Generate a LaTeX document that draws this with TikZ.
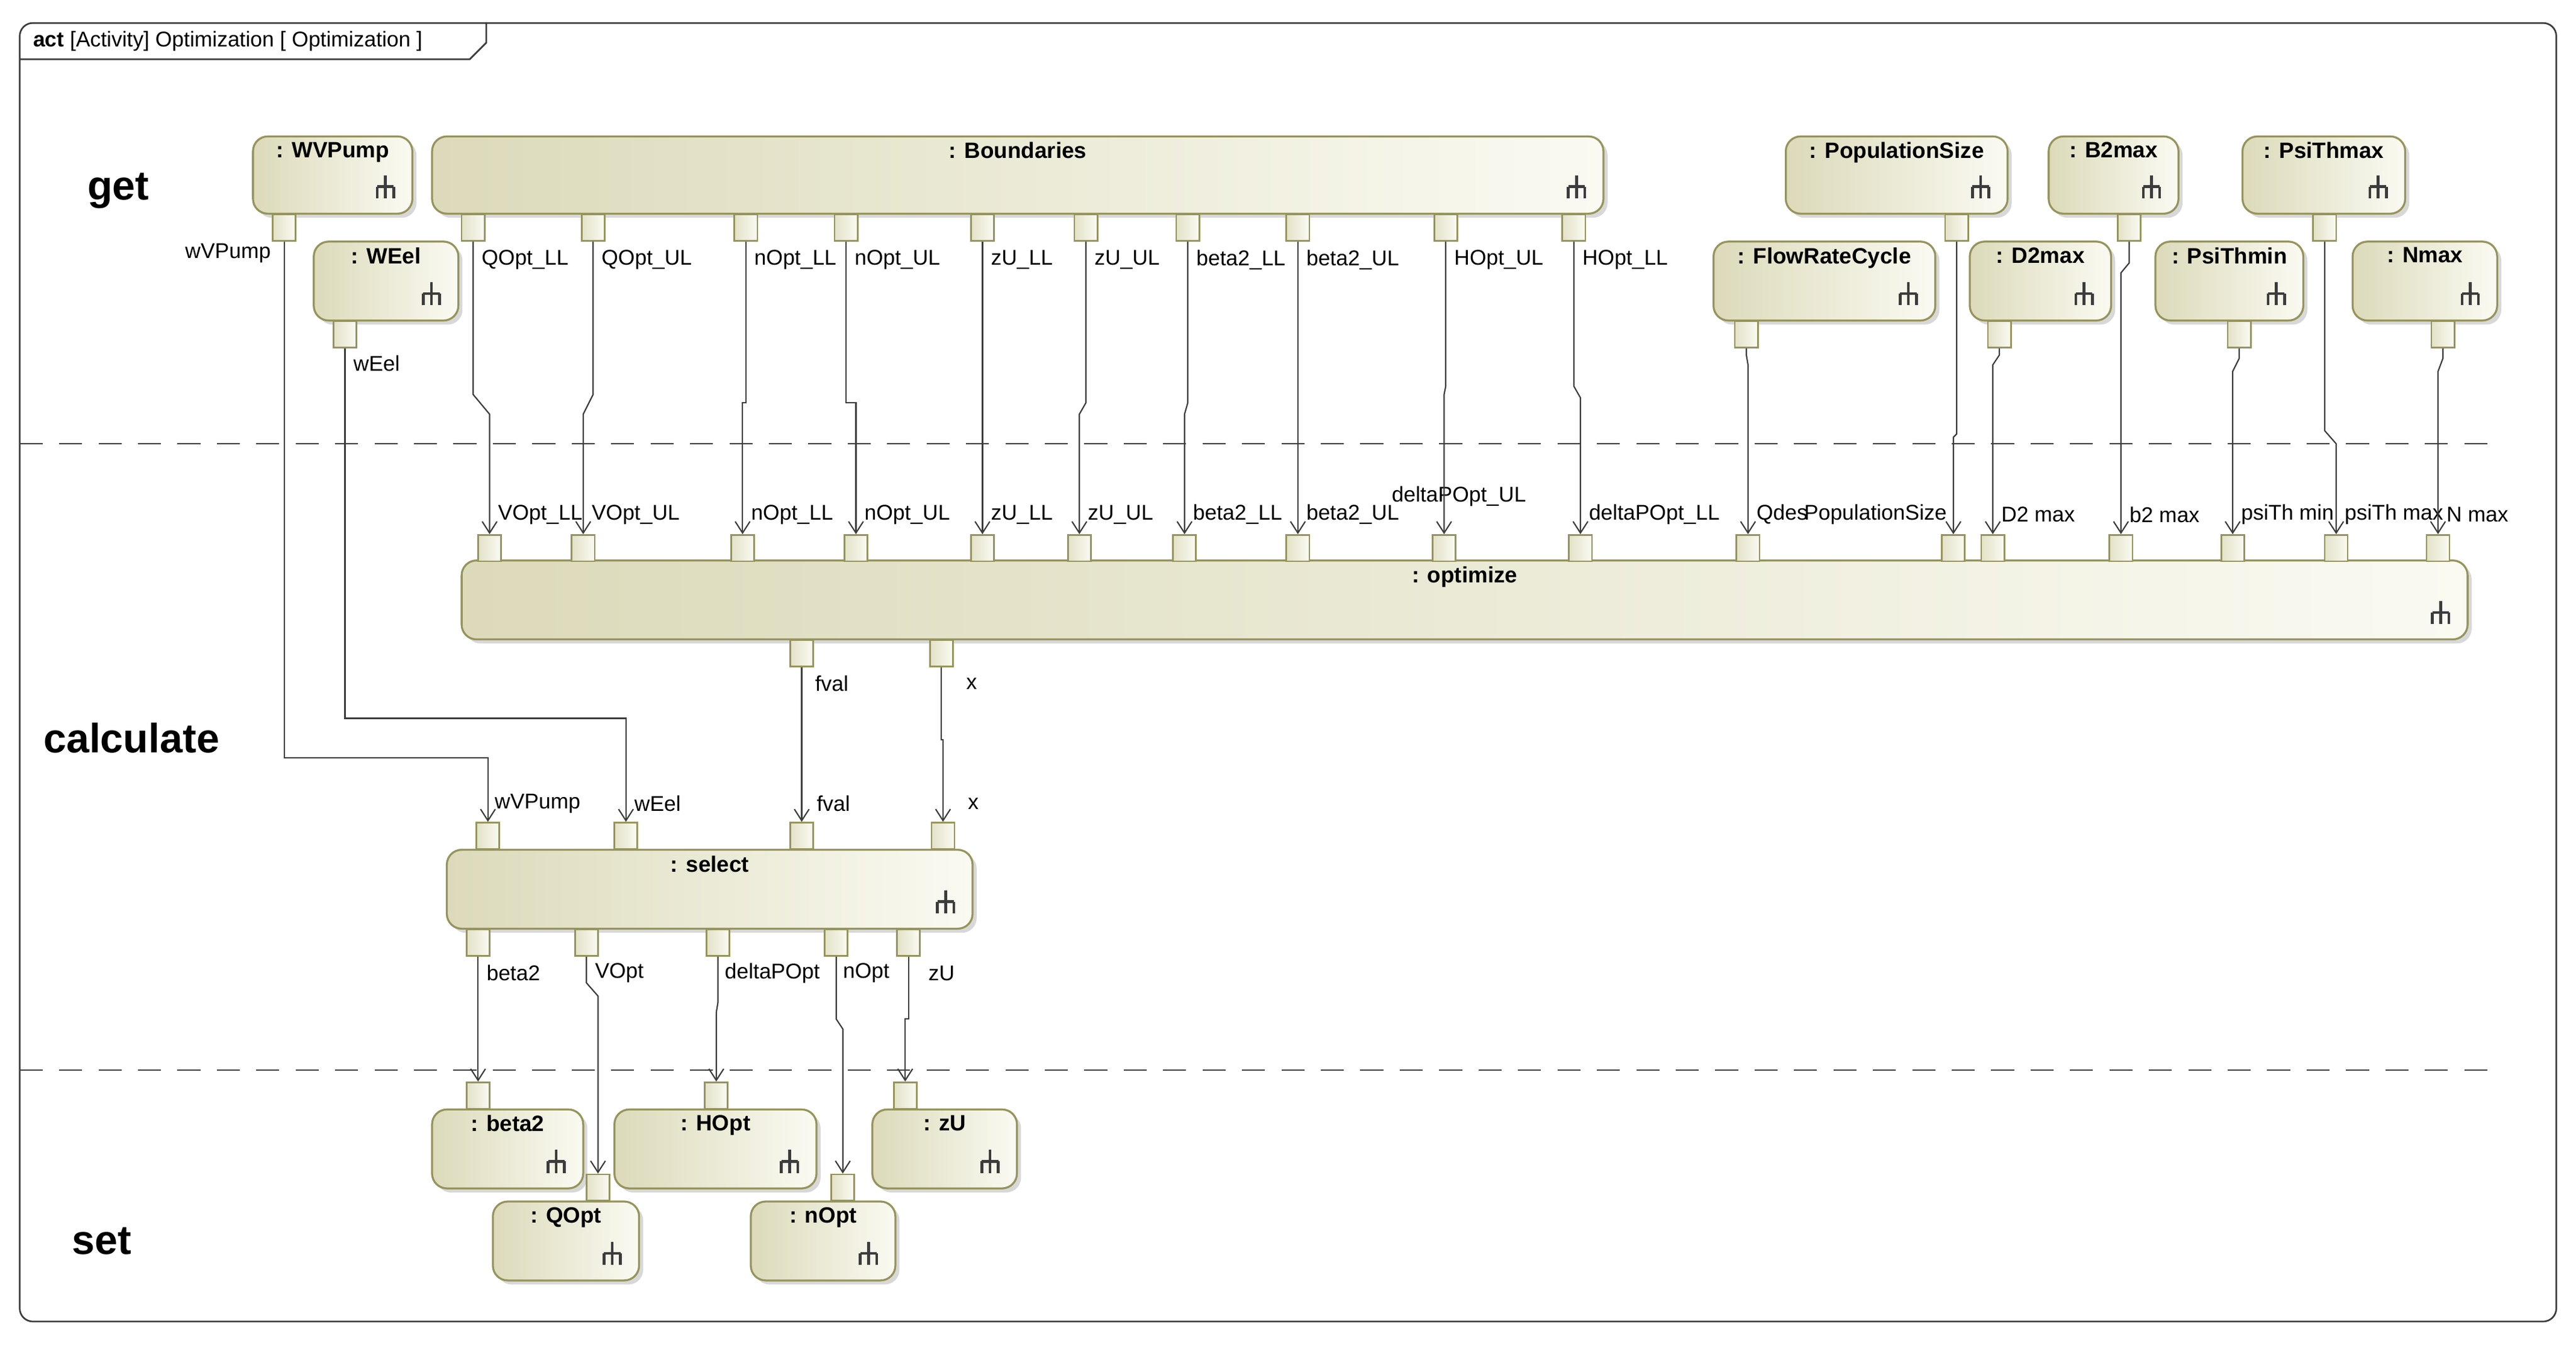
\documentclass[tikz,border=0pt]{standalone}
\usepackage{fontspec}
\setmainfont{Liberation Sans}
\usetikzlibrary{arrows.meta,shadows}
\definecolor{actl}{RGB}{220,218,186}
\definecolor{actr}{RGB}{250,250,242}
\definecolor{actb}{RGB}{150,148,92}
\definecolor{ln}{RGB}{60,60,60}
\tikzset{
  act/.style={rectangle,rounded corners=9pt,draw=actb,line width=1.2pt,left color=actl,right color=actr,
    drop shadow={shadow xshift=2.5pt,shadow yshift=-2.5pt,fill=black!30},inner sep=0pt},
  ttl/.style={font=\fontsize{13.5}{14}\selectfont\bfseries,inner sep=1pt},
  prt/.style={rectangle,draw=actb,line width=1pt,left color=actl!80,right color=actr,minimum width=14pt,minimum height=16pt,inner sep=0pt},
  lbl/.style={font=\fontsize{13}{14}\selectfont,inner sep=1pt},
  lane/.style={font=\fontsize{25}{28}\selectfont\bfseries},
  flow/.style={draw=ln,line width=0.8pt,-{Straight Barb[length=7pt,width=9pt]}},
  rake/.pic={\draw[line width=1.7pt,ln] (0,-10)--(0,-3) (-5,-3)--(5,-3) (-5,-3)--(-5,4) (0,-3)--(0,4) (5,-3)--(5,4);}
}
\newcommand\actn[6]{\node[act,minimum width={(#4)-(#2)},minimum height={(#5)-(#3)},
  label={[ttl,anchor=north,yshift=-3pt]north:{: #6}}] (#1) at ({(#2+#4)/2},{(#3+#5)/2}) {};
  \pic at ([shift={(-17,-14)}]#1.south east) {rake};}
\newcommand\prt[3]{\node[prt,anchor=north] (#1) at (#2,#3) {};}
\newcommand\fl[4]{\draw[flow] (#1.south) -- (#1.south |- 0,#3) -- (#2.north |- 0,#4) -- (#2.north);}
\begin{document}
\begin{tikzpicture}[x=1pt,y=-1pt]
\useasboundingbox (0,0) rectangle (1568,818);
% frame
\draw[ln,line width=1pt,rounded corners=8pt] (12,14) rectangle (1556,804);
\draw[ln,line width=1pt] (12,36) -- (286,36) -- (296,26) -- (296,14);
\node[font=\fontsize{13}{14}\selectfont,anchor=west,inner sep=0] (tt) at (20,25) {\textbf{act} [Activity] Optimization [ Optimization ]};
\draw[ln,line width=1pt,dash pattern=on 14pt off 10pt] (12,270) -- (1515,270);
\draw[ln,line width=1pt,dash pattern=on 14pt off 10pt] (12,651) -- (1515,651);
\node[lane] (lg) at (72,116) {get};
\node[lane] (lc) at (80,449) {calculate};
\node[lane] (ls) at (62,755) {set};
% get actions
\actn{wv}{154}{83}{251}{130}{WVPump}
\actn{bd}{263}{83}{976}{130}{Boundaries}
\actn{we}{191}{147}{279}{195}{WEel}
\actn{ps}{1087}{83}{1222}{130}{PopulationSize}
\actn{b2}{1247}{83}{1326}{130}{B2max}
\actn{pmx}{1365}{83}{1464}{130}{PsiThmax}
\actn{fr}{1043}{147}{1178}{195}{FlowRateCycle}
\actn{d2}{1199}{147}{1285}{195}{D2max}
\actn{pmn}{1312}{147}{1402}{195}{PsiThmin}
\actn{nm}{1432}{147}{1520}{195}{Nmax}
\actn{op}{281}{341}{1502}{389}{optimize}
\actn{se}{272}{517}{592}{565}{select}
\actn{sb}{263}{675}{355}{723}{beta2}
\actn{sh}{374}{675}{497}{723}{HOpt}
\actn{sz}{531}{675}{619}{723}{zU}
\actn{sq}{300}{731}{389}{779}{QOpt}
\actn{sn}{457}{731}{545}{779}{nOpt}
% output pins of get
\prt{pwv}{173}{130}
\prt{pwe}{210}{195}
\prt{b1}{288}{130}\prt{b2p}{361}{130}\prt{b3}{454}{130}\prt{b4}{515}{130}\prt{b5}{598}{130}
\prt{b6}{661}{130}\prt{b7}{723}{130}\prt{b8}{790}{130}\prt{b9}{880}{130}\prt{b10}{958}{130}
\prt{pps}{1191}{130}\prt{pb2}{1296}{130}\prt{ppmx}{1415}{130}
\prt{pfr}{1063}{195}\prt{pd2}{1217}{195}\prt{ppmn}{1363}{195}\prt{pnm}{1487}{195}
% optimize input pins
\prt{o1}{298}{325}\prt{o2}{355}{325}\prt{o3}{452}{325}\prt{o4}{521}{325}\prt{o5}{598}{325}
\prt{o6}{657}{325}\prt{o7}{721}{325}\prt{o8}{790}{325}\prt{o9}{879}{325}\prt{o10}{962}{325}
\prt{o11}{1064}{325}\prt{o12}{1189}{325}\prt{o13}{1213}{325}\prt{o14}{1291}{325}\prt{o15}{1359}{325}
\prt{o16}{1422}{325}\prt{o17}{1484}{325}
\prt{of}{488}{389}\prt{ox}{573}{389}
% select pins
\prt{si1}{297}{500}\prt{si2}{381}{500}\prt{si3}{488}{500}\prt{si4}{574}{500}
\prt{so1}{291}{565}\prt{so2}{357}{565}\prt{so3}{437}{565}\prt{so4}{509}{565}\prt{so5}{553}{565}
% set pins
\prt{tb}{291}{658}\prt{th}{436}{658}\prt{tz}{551}{658}\prt{tq}{364}{714}\prt{tn}{513}{714}
% labels
\node[lbl,anchor=east] (lwv) at (166,154) {wVPump};
\node[lbl,anchor=west] (lwe) at (214,221) {wEel};
\foreach \n/\x/\t in {a1/292/QOpt\_LL,a2/365/QOpt\_UL,a3/458/nOpt\_LL,a4/519/nOpt\_UL,a5/602/zU\_LL,a6/665/zU\_UL,a7/727/beta2\_LL,a8/794/beta2\_UL,a9/884/HOpt\_UL,a10/962/HOpt\_LL}
  \node[lbl,anchor=west] (\n) at (\x,158) {\t};
\foreach \n/\x/\t in {c1/302/VOpt\_LL,c2/359/VOpt\_UL,c3/456/nOpt\_LL,c4/525/nOpt\_UL,c5/602/zU\_LL,c6/661/zU\_UL,c7/725/beta2\_LL,c8/794/beta2\_UL,c10/966/deltaPOpt\_LL,c11/1068/Qdes,c12/1097/PopulationSize,c13/1217/D2 max,c14/1295/b2 max,c15/1363/psiTh min,c16/1426/psiTh max,c17/1488/N max}
  \node[lbl,anchor=west] (\n) at (\x,313) {\t};
\node[lbl,anchor=west] (c9) at (846,302) {deltaPOpt\_UL};
\node[lbl,anchor=west] (lf1) at (495,416) {fval};
\node[lbl,anchor=west] (lx1) at (587,416) {x};
\node[lbl,anchor=west] (d1) at (300,489) {wVPump};
\node[lbl,anchor=west] (d2) at (385,489) {wEel};
\node[lbl,anchor=west] (d3) at (496,489) {fval};
\node[lbl,anchor=west] (d4) at (588,489) {x};
\foreach \n/\x/\t in {e1/295/beta2,e2/361/VOpt,e3/440/deltaPOpt,e4/512/nOpt,e5/564/zU}
  \node[lbl,anchor=west] (\n) at (\x,592) {\t};
% flows
\fl{b1}{o1}{240}{252}\fl{b2p}{o2}{240}{252}\fl{b3}{o3}{245}{245}\fl{b4}{o4}{245}{245}
\fl{b5}{o5}{245}{245}\fl{b6}{o6}{245}{252}\fl{b7}{o7}{245}{252}\fl{b8}{o8}{245}{245}
\fl{b9}{o9}{235}{240}\fl{b10}{o10}{235}{242}
\fl{pfr}{o11}{216}{222}\fl{pps}{o12}{264}{266}\fl{pd2}{o13}{216}{222}\fl{pb2}{o14}{160}{166}
\fl{ppmn}{o15}{218}{226}\fl{ppmx}{o16}{262}{270}\fl{pnm}{o17}{218}{226}
\fl{of}{si3}{450}{450}\fl{ox}{si4}{450}{450}
\draw[flow] (pwv.south) -- (pwv.south |- 0,461) -- (si1.north |- 0,461) -- (si1.north);
\draw[flow] (pwe.south) -- (pwe.south |- 0,437) -- (si2.north |- 0,437) -- (si2.north);
\fl{so1}{tb}{620}{620}\fl{so2}{tq}{598}{606}\fl{so3}{th}{610}{616}\fl{so4}{tn}{620}{626}\fl{so5}{tz}{620}{620}
\end{tikzpicture}
\end{document}
